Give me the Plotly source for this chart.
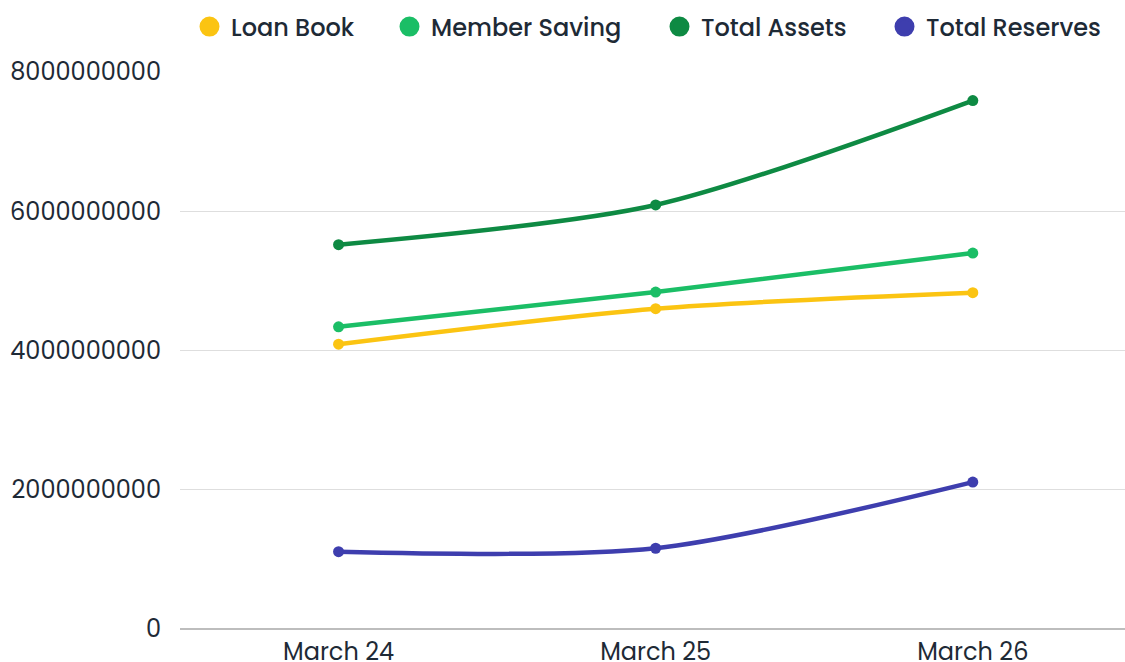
import plotly.graph_objects as go

categories = ["March 24", "March 25", "March 26"]
loan_book = [4.09e9, 4.60e9, 4.83e9]
member_saving = [4.34e9, 4.84e9, 5.40e9]
total_assets = [5.52e9, 6.09e9, 7.59e9]
total_reserves = [1.11e9, 1.16e9, 2.11e9]

series = [
    ("Loan Book", loan_book, "#FBC412"),
    ("Member Saving", member_saving, "#1BBE66"),
    ("Total Assets", total_assets, "#0E8A43"),
    ("Total Reserves", total_reserves, "#3E3EAE"),
]
# legend marker centres (container pixels)
legend_px = [210, 410, 680, 905]

font_family = "Poppins, Inter, Roboto, sans-serif"
text_color = "#1E2A36"

fig = go.Figure()
for name, vals, color in series:
    fig.add_trace(go.Scatter(
        x=categories, y=vals, name=name, mode="lines+markers",
        line=dict(color=color, width=4.5, shape="spline", smoothing=0.8),
        marker=dict(color=color, size=11),
        showlegend=False,
    ))

legend_layouts = {}
for i, ((name, vals, color), px) in enumerate(zip(series, legend_px)):
    key = "legend" if i == 0 else f"legend{i + 1}"
    fig.add_trace(go.Scatter(
        x=[None], y=[None], name=name, mode="markers",
        marker=dict(color=color, size=16, symbol="circle",
                    line=dict(color=color, width=4)),
        showlegend=True, legend=key,
    ))
    legend_layouts[key] = dict(
        orientation="h", xref="container", yref="container",
        x=(px - 22) / 1125, xanchor="left", y=1 - 27 / 662, yanchor="middle",
        font=dict(size=24, color=text_color, weight=500),
        itemsizing="trace", itemwidth=33, bgcolor="rgba(0,0,0,0)",
    )

fig.update_layout(
    width=1125, height=662,
    margin=dict(l=180, r=0, t=72, b=33, autoexpand=False),
    paper_bgcolor="white", plot_bgcolor="white",
    font=dict(family=font_family, size=24, color=text_color),
    **legend_layouts,
)
fig.update_xaxes(
    type="category", range=[-0.5, 2.48], showgrid=False, automargin=False,
    showline=False, ticks="", ticklabelstandoff=6,
    tickfont=dict(size=24, color=text_color),
)
fig.update_yaxes(
    range=[0, 8e9], tickvals=[0, 2e9, 4e9, 6e9, 8e9],
    ticktext=["0", "2000000000", "4000000000", "6000000000", "8000000000"],
    showgrid=True, gridcolor="#DEDEDE", gridwidth=1, automargin=False,
    zeroline=True, zerolinecolor="#BDBDBD", zerolinewidth=1.5,
    showline=False, ticks="", ticklabelstandoff=18,
    tickfont=dict(size=24, color=text_color),
)

fig.write_html("out.html", config={"displayModeBar": False},
               post_script="document.body.style.margin='0';")
